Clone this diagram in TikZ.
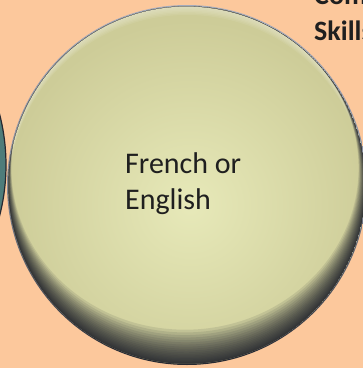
\documentclass[tikz,border=0pt]{standalone}
\usepackage{fontspec}
\setmainfont{Carlito}
\definecolor{peach}{HTML}{FCC89C}
\definecolor{basec}{HTML}{CDCC98}
\definecolor{hlc}{HTML}{E7E9B9}
\definecolor{rimdark}{HTML}{262830}
\definecolor{rimtop}{HTML}{A3AABB}
\definecolor{tealc}{HTML}{4E7C7A}
\definecolor{txt}{HTML}{1F1F1F}
\tikzset{
  maintext/.style={font=\fontsize{30}{36.6}\selectfont, text=txt, align=left, inner sep=0pt},
  sidetext/.style={font=\bfseries\fontsize{28}{36}\selectfont, text=txt, align=left, inner sep=0pt}
}
\begin{document}
\begin{tikzpicture}[x=1pt,y=-1pt]
\useasboundingbox (0,0) rectangle (363,368);
\clip (0,0) rectangle (363,368);
\fill[peach] (0,0) rectangle (363,368);
% left neighbour circle
\fill[tealc, draw=rimdark, line width=1.2pt] (-197,165) circle (203);
% main circle outline
\shade[top color=rimtop, bottom color=rimdark, middle color=rimtop!75!rimdark] (187,185) circle (180);
\begin{scope}
  \clip (187,185) circle (178.7);
  \fill[basec] (187,185) circle (178.7);
  \shade[inner color=hlc, outer color=basec] (190,205) circle (185);
  % top bevel highlight
  \foreach \k in {1,...,6}{
    \pgfmathsetmacro\d{\k*1.2}
    \fill[white, opacity=0.07, even odd rule] (187,185) circle (178.7) ({187},{185+0.6*\d}) ellipse [x radius={178.7-0.1*\d}, y radius={178.7-0.6*\d}];
  }
  % bottom inner shadow
  \foreach \k in {1,...,22}{
    \pgfmathsetmacro\d{17*(\k/22)^1.8}
    \fill[rimdark, opacity=0.11, even odd rule] (187,185) circle (178.7) ({187-0.12*\d},{185-\d}) ellipse [x radius={178.7-0.3*\d}, y radius={178.7-\d}];
  }
\end{scope}
\node[maintext, anchor=north west] (lbl) at (125,152) {French or\\English};
\node[sidetext, anchor=north west] (side) at (314,-14) {Com\\Skills};
\end{tikzpicture}
\end{document}
